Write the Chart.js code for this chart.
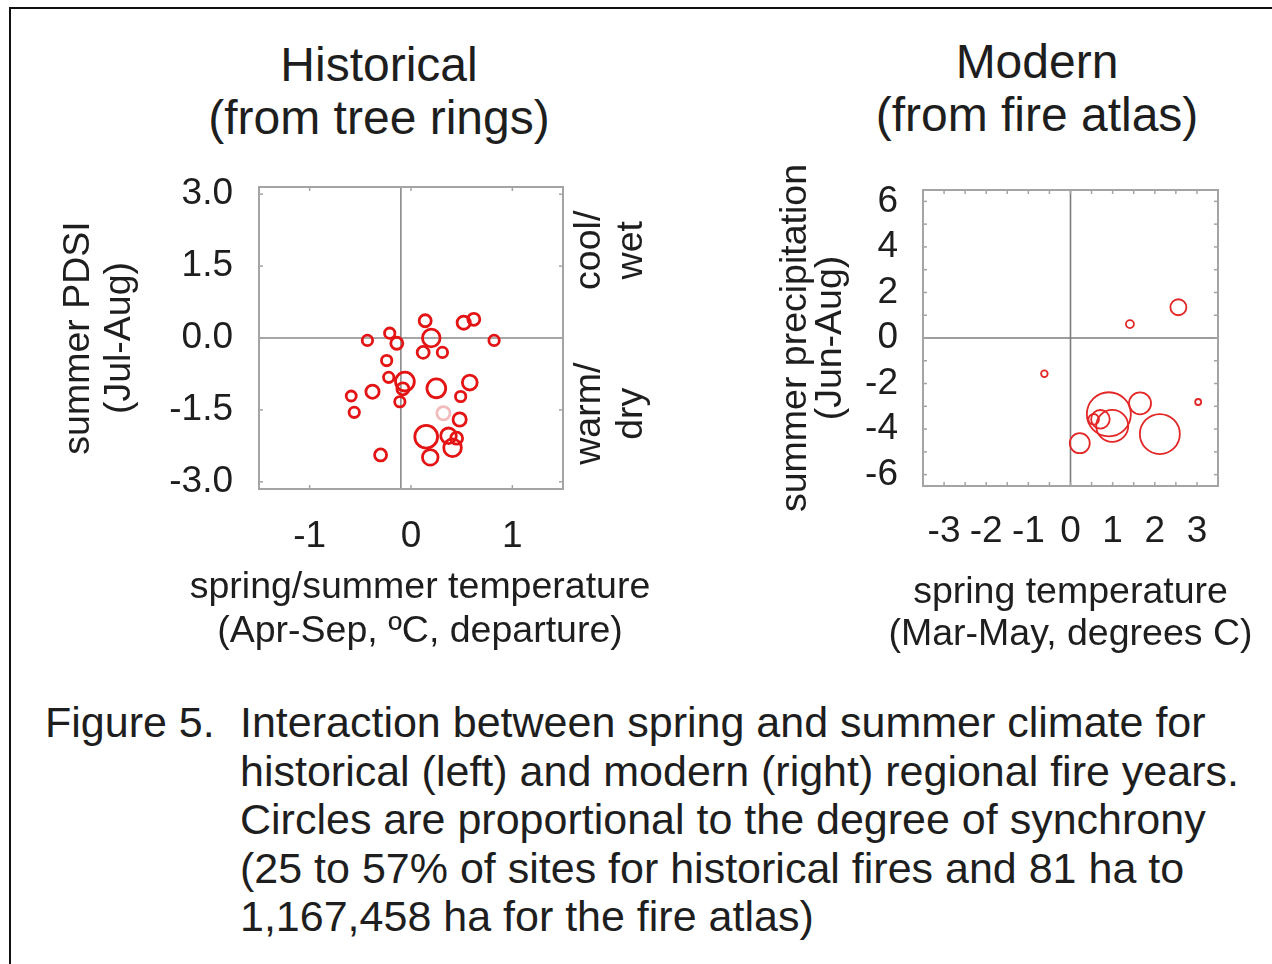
<!DOCTYPE html>
<html>
<head>
<meta charset="utf-8">
<script src="https://cdn.jsdelivr.net/npm/chart.js@4/dist/chart.umd.min.js"></script>
<style>
  html, body { margin: 0; padding: 0; background: #fff; }
  body { width: 1272px; height: 964px; position: relative; overflow: hidden;
         font-family: "Liberation Sans", Arial, sans-serif; color: #1e1e1e; }
  #frame { position: absolute; left: 9px; top: 7px; width: 1300px; height: 1000px;
           border-left: 2px solid #111; border-top: 2px solid #111; }
  .ttl { position: absolute; width: 500px; font-size: 48px; line-height: 53px;
         text-align: center; white-space: nowrap; }
  .wrap { position: absolute; top: 160px; height: 520px; }
  #caption { position: absolute; left: 45px; top: 698px; font-size: 43px; line-height: 48.5px; white-space: nowrap; }
  #caption .lbl { position: absolute; left: 0; top: 0; }
  #caption .txt { position: absolute; left: 195px; top: 0; }
</style>
</head>
<body>
<div id="frame"></div>

<div class="ttl" style="left:129px; top:38px;">Historical<br>(from tree rings)</div>
<div class="ttl" style="left:787px; top:35px;">Modern<br>(from fire atlas)</div>

<div class="wrap" style="left:0; width:700px;"><canvas id="hist" width="700" height="520"></canvas></div>
<div class="wrap" style="left:700px; width:572px;"><canvas id="modern" width="572" height="520"></canvas></div>

<div id="caption">
  <div class="lbl">Figure 5.</div>
  <div class="txt">Interaction between spring and summer climate for<br>historical (left) and modern (right) regional fire years.<br>Circles are proportional to the degree of synchrony<br>(25 to 57% of sites for historical fires and 81 ha to<br>1,167,458 ha for the fire atlas)</div>
</div>

<script>
// ---- Historical fire years (tree rings) ----
// spring/summer temperature departure (°C), summer PDSI, % of sites burning
const histTemp = [-0.43, -0.21, -0.14, 0.14, 0.20, 0.12, 0.31, 0.52, 0.62, 0.82,
                  -0.24, -0.22, -0.06, -0.08, -0.11, -0.38, -0.59, -0.56, 0.25, 0.58,
                  0.49, 0.48, 0.15, 0.37, 0.45, 0.41, 0.19, -0.30];
const histPdsi = [-0.05, 0.10, -0.11, 0.36, 0.00, -0.30, -0.30, 0.32, 0.39, -0.05,
                  -0.47, -0.82, -0.91, -1.06, -1.33, -1.12, -1.21, -1.55, -1.05, -0.93,
                  -1.22, -1.70, -2.06, -2.04, -2.09, -2.29, -2.49, -2.44];
const histSync = [26, 26, 30, 30, 44, 30, 26, 33, 30, 26,
                  26, 26, 47, 30, 26, 33, 25, 26, 47, 37,
                  26, 33, 57, 39, 30, 44, 39, 30];
// one year drawn faintly
const histFaintTemp = [0.32];
const histFaintPdsi = [-1.57];
const histFaintSync = [33];

const histXTicks = [-1, 0, 1];
const histYTicks = [3.0, 1.5, 0.0, -1.5, -3.0];
const histRefTemp = -0.1;

// ---- Modern fire years (fire atlas) ----
// spring temperature (°C), summer precipitation, area burned (ha)
const modTemp   = [-0.62, 1.41, 2.56, 3.03, 0.91, 1.65, 2.12, 0.22, 0.99, 0.71, 0.55];
const modPrecip = [-1.57, 0.61, 1.35, -2.81, -3.35, -2.87, -4.22, -4.62, -3.86, -3.57, -3.57];
const modArea   = [94, 134, 1007, 81, 1167458, 4560, 426600, 2754, 56750, 1936, 258];

const modXTicks = [-3, -2, -1, 0, 1, 2, 3];
const modYTicks = [6, 4, 2, 0, -2, -4, -6];

// circle radius from synchrony (% of sites) and from area burned (log scale)
const syncRadius = p => p * 0.2;
const areaRadius = ha => 3 + 4.57 * Math.log10(ha / 81);

Chart.defaults.font.family = '"Liberation Sans", Arial, sans-serif';
Chart.defaults.color = '#1e1e1e';

// plot box, inward tick marks and the crossing reference lines
const frameDecor = {
  id: 'frameDecor',
  beforeDatasetsDraw(chart, args, o) {
    const { ctx, chartArea: a, scales: { x, y } } = chart;
    const seg = (x1, y1, x2, y2) => { ctx.beginPath(); ctx.moveTo(x1, y1); ctx.lineTo(x2, y2); ctx.stroke(); };
    ctx.save();
    ctx.strokeStyle = o.refColor; ctx.lineWidth = o.refWidth;
    const rx = x.getPixelForValue(o.refX), ry = y.getPixelForValue(o.refY);
    seg(rx, a.top, rx, a.bottom);
    seg(a.left, ry, a.right, ry);
    ctx.strokeStyle = o.boxColor; ctx.lineWidth = o.markWidth;
    for (const v of o.xMarks) {
      const p = x.getPixelForValue(v);
      seg(p, a.bottom, p, a.bottom - o.markLen);
      seg(p, a.top, p, a.top + o.markLen);
    }
    for (const v of o.yMarks) {
      const p = y.getPixelForValue(v);
      seg(a.left, p, a.left + o.markLen, p);
      seg(a.right, p, a.right - o.markLen, p);
    }
    ctx.lineWidth = o.boxWidth;
    ctx.strokeRect(a.left, a.top, a.right - a.left, a.bottom - a.top);
    ctx.restore();
  }
};

// x-axis caption (two lines, drawn at full width below the tick labels)
// and rotated quadrant notes beside the right edge of the plot
const axisNotes = {
  id: 'axisNotes',
  afterDraw(chart, args, o) {
    const { ctx, chartArea: a, scales: { y } } = chart;
    ctx.save();
    ctx.font = o.font; ctx.fillStyle = '#1e1e1e';
    ctx.textAlign = 'center'; ctx.textBaseline = 'middle';
    const cx = (a.left + a.right) / 2 + o.xTitleShift;
    o.xTitle.forEach((t, i) => ctx.fillText(t, cx, a.bottom + o.xTitleTop + i * o.xTitleGap));
    for (const n of (o.notes || [])) {
      const cy = y.getPixelForValue(n.at);
      n.lines.forEach((t, i) => {
        ctx.save();
        ctx.translate(a.right + o.noteOffset + i * o.noteGap, cy);
        ctx.rotate(-Math.PI / 2);
        ctx.fillText(t, 0, 0);
        ctx.restore();
      });
    }
    ctx.restore();
  }
};

function fixedTicks(values) {
  return s => { s.ticks = values.map(v => ({ value: v })); };
}
// fixed scale thickness; end labels may overhang the plot box
function fixedWidth(w) {
  return s => { s.width = w; s.paddingTop = 0; s.paddingBottom = 0; };
}
function fixedHeight(h) {
  return s => { s.height = h; s.paddingLeft = 0; s.paddingRight = 0; };
}

new Chart(document.getElementById('hist'), {
  type: 'bubble',
  data: {
    datasets: [
      {
        data: histTemp.map((t, i) => ({ x: t, y: histPdsi[i], r: syncRadius(histSync[i]) })),
        borderColor: '#e41414', borderWidth: 2.8, backgroundColor: 'rgba(255,255,255,0)'
      },
      {
        data: histFaintTemp.map((t, i) => ({ x: t, y: histFaintPdsi[i], r: syncRadius(histFaintSync[i]) })),
        borderColor: '#f3bcbc', borderWidth: 2.8, backgroundColor: 'rgba(255,255,255,0)'
      }
    ]
  },
  options: {
    responsive: false, animation: false, devicePixelRatio: 1,
    events: [],
    layout: { autoPadding: false, padding: { left: 0, top: 27, right: 137, bottom: 0 } },
    plugins: {
      legend: { display: false }, tooltip: { enabled: false },
      frameDecor: {
        refX: histRefTemp, refY: 0, refColor: '#8a8a8a', refWidth: 1.6,
        boxColor: '#a4a4a4', boxWidth: 2, markWidth: 1.5, markLen: 4,
        xMarks: histXTicks, yMarks: histYTicks
      },
      axisNotes: {
        font: '37.5px "Liberation Sans", Arial, sans-serif',
        xTitle: ['spring/summer temperature', '(Apr-Sep, \u00baC, departure)'],
        xTitleShift: 9, xTitleTop: 99, xTitleGap: 44,
        noteOffset: 27, noteGap: 42,
        notes: [ { at: 1.83, lines: ['cool/', 'wet'] }, { at: -1.58, lines: ['warm/', 'dry'] } ]
      }
    },
    scales: {
      x: {
        type: 'linear', min: -1.5, max: 1.5,
        afterBuildTicks: fixedTicks(histXTicks),
        afterFit: fixedHeight(191),
        grid: { display: false, drawTicks: false, tickLength: 0 }, border: { display: false },
        ticks: { autoSkip: false, padding: 26, font: { size: 37, lineHeight: 1.2 }, callback: v => String(v) }
      },
      y: {
        type: 'linear', min: -3.15, max: 3.15,
        afterBuildTicks: fixedTicks(histYTicks),
        afterFit: fixedWidth(259),
        grid: { display: false, drawTicks: false, tickLength: 0 }, border: { display: false },
        ticks: { autoSkip: false, padding: 26, font: { size: 37, lineHeight: 1.2 }, callback: v => v.toFixed(1) },
        title: { display: true, text: ['summer PDSI', '(Jul-Aug)'],
                 font: { size: 37.5, lineHeight: 41 / 37.5 }, padding: { top: 58, bottom: 0 } }
      }
    }
  },
  plugins: [frameDecor, axisNotes]
});

const modXMarks = [], modYMarks = [];
for (let v = -3; v <= 3.001; v += 0.5) modXMarks.push(v);
for (let v = -6; v <= 6; v += 1) modYMarks.push(v);

new Chart(document.getElementById('modern'), {
  type: 'bubble',
  data: {
    datasets: [{
      data: modTemp.map((t, i) => ({ x: t, y: modPrecip[i], r: areaRadius(modArea[i]) })),
      borderColor: '#e32626', borderWidth: 1.8, backgroundColor: 'rgba(255,255,255,0)'
    }]
  },
  options: {
    responsive: false, animation: false, devicePixelRatio: 1,
    events: [],
    layout: { autoPadding: false, padding: { left: 0, top: 30, right: 54, bottom: 0 } },
    plugins: {
      legend: { display: false }, tooltip: { enabled: false },
      frameDecor: {
        refX: 0, refY: 0, refColor: '#7c7c7c', refWidth: 1.6,
        boxColor: '#a4a4a4', boxWidth: 2, markWidth: 1.5, markLen: 4,
        xMarks: modXMarks, yMarks: modYMarks
      },
      axisNotes: {
        font: '37.5px "Liberation Sans", Arial, sans-serif',
        xTitle: ['spring temperature', '(Mar-May, degrees C)'],
        xTitleShift: 0, xTitleTop: 107, xTitleGap: 42
      }
    },
    scales: {
      x: {
        type: 'linear', min: -3.5, max: 3.5,
        afterBuildTicks: fixedTicks(modXTicks),
        afterFit: fixedHeight(194),
        grid: { display: false, drawTicks: false, tickLength: 0 }, border: { display: false },
        ticks: { autoSkip: false, padding: 24, font: { size: 37, lineHeight: 1.2 }, callback: v => String(v) }
      },
      y: {
        type: 'linear', min: -6.5, max: 6.5,
        afterBuildTicks: fixedTicks(modYTicks),
        afterFit: fixedWidth(223),
        grid: { display: false, drawTicks: false, tickLength: 0 }, border: { display: false },
        ticks: { autoSkip: false, padding: 25, font: { size: 37, lineHeight: 1.2 }, callback: v => String(v) },
        title: { display: true, text: ['summer precipitation', '(Jun-Aug)'],
                 font: { size: 37.5, lineHeight: 35 / 37.5 }, padding: { top: 78, bottom: 0 } }
      }
    }
  },
  plugins: [frameDecor, axisNotes]
});
</script>
</body>
</html>
